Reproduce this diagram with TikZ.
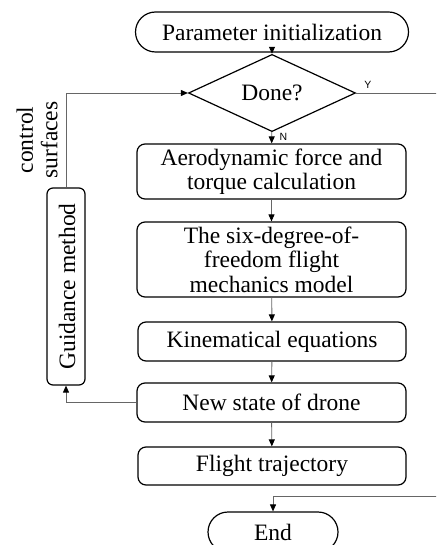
\documentclass[tikz,border=0pt]{standalone}
\usepackage{fontspec}
\setmainfont{Liberation Serif}
\newfontfamily\lblfont{Liberation Sans}
\usetikzlibrary{arrows.meta,shapes.geometric}
\begin{document}
\begin{tikzpicture}[x=1pt,y=-1pt,
  txt/.style={font=\fontsize{23.5}{24.5}\selectfont, text=black},
  procbox/.style={txt, draw=black, line width=1.2pt, rounded corners=8pt, align=center, inner sep=0pt},
  termbox/.style={txt, draw=black, line width=1.2pt, rounded corners=20pt, inner sep=0pt},
  decbox/.style={txt, draw=black, line width=1.2pt, diamond, inner sep=0pt, minimum width=167pt, minimum height=48pt},
  conn/.style={draw=black!60, line width=0.9pt},
  arr/.style={conn, -{Triangle[length=7pt,width=6pt,color=black]}},
  lbl/.style={font=\lblfont\fontsize{10.5}{12}\selectfont, text=black}
]
\useasboundingbox (0,0) rectangle (436,545);
\clip (0,0) rectangle (436,545);
\node[termbox, minimum width=273pt, minimum height=40pt] (init) at (272,32) {Parameter initialization};
\node[decbox] (done) at (272,93) {Done?};
\node[procbox, minimum width=269pt, minimum height=55pt] (aero) at (271.5,171.5) {Aerodynamic force and\\torque calculation};
\node[procbox, minimum width=269pt, minimum height=75pt] (six) at (271.5,259.5) {The six-degree-of-\\freedom flight\\mechanics model};
\node[procbox, minimum width=268pt, minimum height=39pt] (kin) at (272,341.5) {Kinematical equations};
\node[procbox, minimum width=269pt, minimum height=39pt] (new) at (271.5,402.5) {New state of drone};
\node[procbox, minimum width=268pt, minimum height=38pt] (traj) at (272,466) {Flight trajectory};
\node[termbox, minimum width=130pt, minimum height=40pt] (fin) at (273,532) {End};
\node[procbox, rounded corners=6pt, minimum width=38pt, minimum height=197pt] (guide) at (66,286.5) {};
\node[txt, rotate=90] (guidetxt) at (67,286.5) {Guidance method};
\node[txt, rotate=90, align=center] (ctrl) at (37,140) {control\\surfaces};
\coordinate (r1) at (440,93);
\coordinate (r2) at (440,496);
\draw[arr] (init) -- (done);
\draw[arr] (done) -- node[lbl, right, xshift=4pt, pos=0.4] {N} (aero);
\draw[arr] (aero) -- (six);
\draw[arr] (six) -- (kin);
\draw[arr] (kin) -- (new);
\draw[arr] (new) -- (traj);
\draw[conn] (done.east) -- node[lbl, above, pos=0.14, yshift=1pt] {Y} (r1);
\draw[arr] (r2) -| (fin.north);
\draw[arr] (new.west) -| (guide.south);
\draw[arr] (guide.north) |- (done.west);
\end{tikzpicture}
\end{document}
